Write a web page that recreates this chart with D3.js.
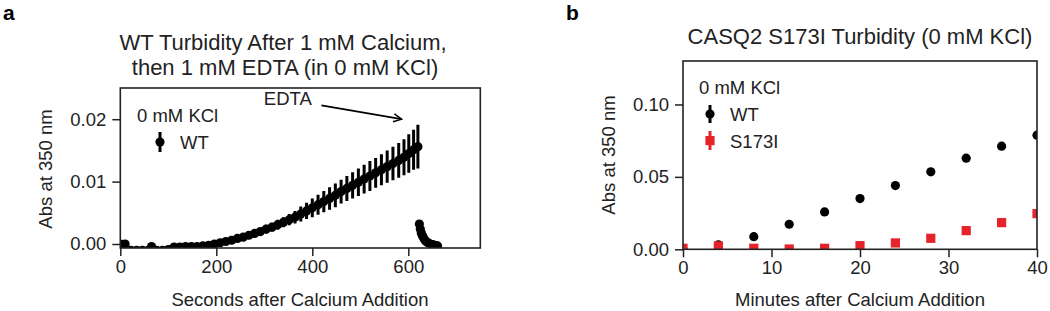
<!DOCTYPE html>
<html>
<head>
<meta charset="utf-8">
<script src="https://cdn.jsdelivr.net/npm/d3@7"></script>
<style>
  body { margin: 0; background: #fff; }
  svg { font-family: "Liberation Sans", Arial, sans-serif; }
  .tick text { font-size: 18.5px; fill: #222; }
  .tick line { stroke: #222; stroke-width: 1.5; }
</style>
</head>
<body>
<svg id="chart" width="1050" height="311"></svg>
<script>
// panel a: WT turbidity, seconds after calcium, then EDTA
let secondsA = [0, 10, 22, 34, 46, 58, 65, 76, 88, 100, 112, 124, 136, 148, 160, 172, 184, 196,
  208, 220, 232, 244, 256, 268, 280, 292, 304, 316, 328, 340, 352, 364, 376, 388, 400, 412,
  424, 436, 448, 460, 472, 484, 496, 508, 520, 532, 544, 556, 568, 580, 591, 601, 611, 620];
let absA = [0.0000, 0.0000, -0.0010, -0.0010, -0.0010, -0.0010, -0.0004, -0.0010, -0.0010, -0.0009,
  -0.0005, -0.0005, -0.0004, -0.0004, -0.0004, -0.0003, -0.0002, 0.0000,
  0.0002, 0.0004, 0.0006, 0.0009, 0.0011, 0.0014, 0.0017, 0.0020, 0.0024, 0.0027, 0.0031, 0.0035,
  0.0039, 0.0043, 0.0048, 0.0053, 0.0058, 0.0063, 0.0068, 0.0073, 0.0078, 0.0084, 0.0089, 0.0094,
  0.0099, 0.0104, 0.0109, 0.0114, 0.0119, 0.0124, 0.0129, 0.0134, 0.0139, 0.0145, 0.0151, 0.0156];
let errA = [0.0002, 0.0002, 0.0002, 0.0002, 0.0002, 0.0002, 0.0002, 0.0002, 0.0002, 0.0002,
  0.0003, 0.0003, 0.0003, 0.0003, 0.0003, 0.0003, 0.0003, 0.0003,
  0.0004, 0.0004, 0.0004, 0.0005, 0.0005, 0.0005, 0.0006, 0.0006, 0.0007, 0.0007, 0.0008, 0.0008,
  0.0009, 0.0010, 0.0012, 0.0013, 0.0015, 0.0016, 0.0017, 0.0018, 0.0019, 0.0019, 0.0020, 0.0021,
  0.0022, 0.0023, 0.0024, 0.0024, 0.0025, 0.0026, 0.0027, 0.0028, 0.0029, 0.0031, 0.0032, 0.0035];
let edtaSeconds = [623, 625, 627, 629, 631, 634, 637, 641, 646, 651, 656, 661];
let edtaAbs = [0.0032, 0.0024, 0.0018, 0.0014, 0.0011, 0.0007, 0.0004, 0.0002, 0.0000, -0.0001, -0.0002, -0.0003];
let edtaErr = [0.0004, 0.0003, 0.0003, 0.0002, 0.0002, 0.0002, 0.0002, 0.0002, 0.0002, 0.0002, 0.0002, 0.0002];

// panel b: CASQ2 S173I, minutes after calcium
let minutesB = [0, 4, 8, 12, 16, 20, 24, 28, 32, 36, 40];
let wtB = [0.0000, 0.0030, 0.0087, 0.0173, 0.0258, 0.0350, 0.0440, 0.0535, 0.0629, 0.0712, 0.0788];
let s173iB = [0.0007, 0.0023, 0.0007, 0.0002, 0.0007, 0.0025, 0.0044, 0.0076, 0.0129, 0.0184, 0.0246];

let xTicksA = [0, 200, 400, 600];
let yTicksA = [0.00, 0.01, 0.02];
let xTicksB = [0, 10, 20, 30, 40];
let yTicksB = [0.00, 0.05, 0.10];

let red = "#e5232b";
let ink = "#222";

let svg = d3.select("#chart");

// ---------- panel a ----------
let xA = d3.scaleLinear().domain([0, 750]).range([120.3, 480.3]);
let yA = d3.scaleLinear().domain([-0.00064, 0.025]).range([248, 88]);

let gA = svg.append("g");

gA.append("defs").append("clipPath").attr("id", "clipA")
  .append("rect")
  .attr("x", xA.range()[0]).attr("y", yA.range()[1])
  .attr("width", xA.range()[1] - xA.range()[0])
  .attr("height", yA.range()[0] - yA.range()[1]);

gA.append("g")
  .attr("transform", `translate(0, ${yA.range()[0]})`)
  .call(d3.axisBottom(xA).tickValues(xTicksA).tickSize(8).tickPadding(4).tickFormat(d3.format("d")))
  .call(g => g.select(".domain").remove());

gA.append("g")
  .attr("transform", `translate(${xA.range()[0]}, 0)`)
  .call(d3.axisLeft(yA).tickValues(yTicksA).tickSize(8).tickPadding(6).tickFormat(d3.format(".2f")))
  .call(g => g.select(".domain").remove());

let seriesA = secondsA.map((t, i) => ({t: t, v: absA[i], e: errA[i]}))
  .concat(edtaSeconds.map((t, i) => ({t: t, v: edtaAbs[i], e: edtaErr[i]})));

let plotA = gA.append("g").attr("clip-path", "url(#clipA)");

plotA.selectAll(".err")
  .data(seriesA)
  .enter()
  .append("line")
  .attr("x1", d => xA(d.t)).attr("x2", d => xA(d.t))
  .attr("y1", d => yA(d.v - d.e)).attr("y2", d => yA(d.v + d.e))
  .attr("stroke", "#000").attr("stroke-width", 3);

plotA.selectAll(".pt")
  .data(seriesA)
  .enter()
  .append("circle")
  .attr("cx", d => xA(d.t))
  .attr("cy", d => yA(d.v))
  .attr("r", 4.6)
  .attr("fill", "#000");

gA.append("rect")
  .attr("x", xA.range()[0]).attr("y", yA.range()[1])
  .attr("width", xA.range()[1] - xA.range()[0])
  .attr("height", yA.range()[0] - yA.range()[1])
  .attr("fill", "none").attr("stroke", ink).attr("stroke-width", 1.6);

// EDTA annotation
svg.append("defs").append("marker")
  .attr("id", "arrowHead")
  .attr("viewBox", "0 0 10 10").attr("refX", 9).attr("refY", 5)
  .attr("markerWidth", 10).attr("markerHeight", 10)
  .attr("markerUnits", "userSpaceOnUse")
  .attr("orient", "auto")
  .append("path")
  .attr("d", "M1,1 L9,5 L1,9")
  .attr("fill", "none").attr("stroke", "#000").attr("stroke-width", 1.6);

gA.append("text")
  .attr("x", xA(399)).attr("y", yA(0.0222))
  .attr("text-anchor", "end")
  .attr("font-size", "18.5px").attr("fill", ink)
  .text("EDTA");

gA.append("line")
  .attr("x1", xA(419)).attr("y1", yA(0.0222))
  .attr("x2", xA(586)).attr("y2", yA(0.0200))
  .attr("stroke", "#000").attr("stroke-width", 1.8)
  .attr("marker-end", "url(#arrowHead)");

// legend a
gA.append("text").attr("x", 137).attr("y", 121.5)
  .attr("font-size", "18.5px").attr("fill", ink).text("0 mM KCl");
gA.append("line").attr("x1", 160).attr("x2", 160).attr("y1", 132).attr("y2", 152)
  .attr("stroke", "#000").attr("stroke-width", 3);
gA.append("circle").attr("cx", 160).attr("cy", 142).attr("r", 4.6).attr("fill", "#000");
gA.append("text").attr("x", 180).attr("y", 148.5)
  .attr("font-size", "18.5px").attr("fill", ink).text("WT");

// titles and labels a
gA.append("text").attr("x", 283).attr("y", 49.5).attr("text-anchor", "middle")
  .attr("font-size", "22px").attr("fill", ink).text("WT Turbidity After 1 mM Calcium,");
gA.append("text").attr("x", 285).attr("y", 74.5).attr("text-anchor", "middle")
  .attr("font-size", "22px").attr("fill", ink).text("then 1 mM EDTA (in 0 mM KCl)");
gA.append("text").attr("x", 300).attr("y", 306).attr("text-anchor", "middle")
  .attr("font-size", "18.5px").attr("fill", ink).text("Seconds after Calcium Addition");
gA.append("text")
  .attr("transform", "translate(52, 169) rotate(-90)")
  .attr("text-anchor", "middle")
  .attr("font-size", "18.5px").attr("fill", ink).text("Abs at 350 nm");
svg.append("text").attr("x", 3).attr("y", 20)
  .attr("font-size", "21px").attr("font-weight", "bold").attr("fill", "#000").text("a");

// ---------- panel b ----------
let xB = d3.scaleLinear().domain([0, 40]).range([683, 1037]);
let yB = d3.scaleLinear().domain([0, 0.13]).range([249.3, 61]);

let gB = svg.append("g");

gB.append("defs").append("clipPath").attr("id", "clipB")
  .append("rect")
  .attr("x", xB.range()[0]).attr("y", yB.range()[1])
  .attr("width", xB.range()[1] - xB.range()[0])
  .attr("height", yB.range()[0] - yB.range()[1]);

gB.append("g")
  .attr("transform", `translate(0, ${yB.range()[0]})`)
  .call(d3.axisBottom(xB).tickValues(xTicksB).tickSize(8).tickPadding(4).tickFormat(d3.format("d")))
  .call(g => g.select(".domain").remove());

gB.append("g")
  .attr("transform", `translate(${xB.range()[0]}, 0)`)
  .call(d3.axisLeft(yB).tickValues(yTicksB).tickSize(8).tickPadding(6).tickFormat(d3.format(".2f")))
  .call(g => g.select(".domain").remove());

let plotB = gB.append("g").attr("clip-path", "url(#clipB)");

plotB.selectAll(".wt")
  .data(minutesB)
  .enter()
  .append("circle")
  .attr("cx", d => xB(d))
  .attr("cy", (d, i) => yB(wtB[i]))
  .attr("r", 4.6)
  .attr("fill", "#000");

plotB.selectAll(".mut")
  .data(minutesB)
  .enter()
  .append("rect")
  .attr("x", d => xB(d) - 4.6)
  .attr("y", (d, i) => yB(s173iB[i]) - 4.6)
  .attr("width", 9.2).attr("height", 9.2)
  .attr("fill", red);

gB.append("rect")
  .attr("x", xB.range()[0]).attr("y", yB.range()[1])
  .attr("width", xB.range()[1] - xB.range()[0])
  .attr("height", yB.range()[0] - yB.range()[1])
  .attr("fill", "none").attr("stroke", ink).attr("stroke-width", 1.6);

// legend b
gB.append("text").attr("x", 699).attr("y", 93.5)
  .attr("font-size", "18.5px").attr("fill", ink).text("0 mM KCl");
gB.append("line").attr("x1", 710).attr("x2", 710).attr("y1", 105).attr("y2", 123)
  .attr("stroke", "#000").attr("stroke-width", 3);
gB.append("circle").attr("cx", 710).attr("cy", 114).attr("r", 4.6).attr("fill", "#000");
gB.append("text").attr("x", 730).attr("y", 120.5)
  .attr("font-size", "18.5px").attr("fill", ink).text("WT");
gB.append("line").attr("x1", 710).attr("x2", 710).attr("y1", 131).attr("y2", 150)
  .attr("stroke", red).attr("stroke-width", 3);
gB.append("rect").attr("x", 705.4).attr("y", 136).attr("width", 9.2).attr("height", 9.2).attr("fill", red);
gB.append("text").attr("x", 730).attr("y", 147.5)
  .attr("font-size", "18.5px").attr("fill", ink).text("S173I");

// titles and labels b
gB.append("text").attr("x", 860).attr("y", 43.5).attr("text-anchor", "middle")
  .attr("font-size", "22px").attr("fill", ink).text("CASQ2 S173I Turbidity (0 mM KCl)");
gB.append("text").attr("x", 860).attr("y", 306).attr("text-anchor", "middle")
  .attr("font-size", "18.5px").attr("fill", ink).text("Minutes after Calcium Addition");
gB.append("text")
  .attr("transform", "translate(615, 155) rotate(-90)")
  .attr("text-anchor", "middle")
  .attr("font-size", "18.5px").attr("fill", ink).text("Abs at 350 nm");
svg.append("text").attr("x", 566).attr("y", 20)
  .attr("font-size", "21px").attr("font-weight", "bold").attr("fill", "#000").text("b");
</script>
</body>
</html>
